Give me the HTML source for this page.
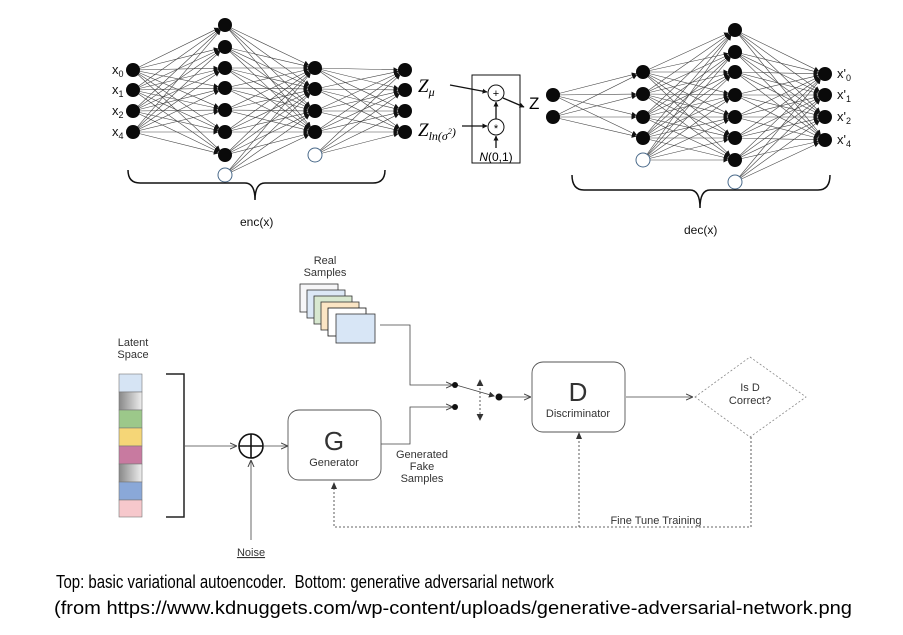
<!DOCTYPE html>
<html><head><meta charset="utf-8"><style>
html,body{margin:0;padding:0;background:#fff;}
svg{display:block;font-family:"Liberation Sans",sans-serif;}
</style></head><body>
<svg id="s" width="903" height="635" viewBox="0 0 903 635" xmlns="http://www.w3.org/2000/svg">
<defs>
<marker id="ah" markerWidth="5" markerHeight="5" refX="4.5" refY="2.5" orient="auto" markerUnits="userSpaceOnUse"><path d="M0,0 L5,2.5 L0,5 z" fill="#111"/></marker>
<marker id="ag" markerWidth="7" markerHeight="7" refX="6" refY="3.5" orient="auto" markerUnits="userSpaceOnUse"><path d="M0,0.5 L7,3.5 L0,6.5" fill="none" stroke="#444" stroke-width="1"/></marker>
<marker id="af" markerWidth="6" markerHeight="6" refX="5" refY="3" orient="auto" markerUnits="userSpaceOnUse"><path d="M0,0 L6,3 L0,6 z" fill="#333"/></marker>
<linearGradient id="g1" x1="0" y1="0" x2="1" y2="0"><stop offset="0" stop-color="#888"/><stop offset="1" stop-color="#eee"/></linearGradient>
</defs>
<g id="lines" stroke="#444" stroke-width="0.6" fill="none"></g>
<g id="nodes"></g>

<g font-size="13" fill="#111">
<text x="112" y="74">x<tspan font-size="9" dy="3">0</tspan></text>
<text x="112" y="94">x<tspan font-size="9" dy="3">1</tspan></text>
<text x="112" y="115">x<tspan font-size="9" dy="3">2</tspan></text>
<text x="112" y="136">x<tspan font-size="9" dy="3">4</tspan></text>
<text x="837" y="78">x'<tspan font-size="9" dy="3">0</tspan></text>
<text x="837" y="99">x'<tspan font-size="9" dy="3">1</tspan></text>
<text x="837" y="121">x'<tspan font-size="9" dy="3">2</tspan></text>
<text x="837" y="144">x'<tspan font-size="9" dy="3">4</tspan></text>
<text x="240" y="226" font-size="12">enc(x)</text>
<text x="684" y="234" font-size="12">dec(x)</text>
</g>
<path d="M128,170 Q128,183 140,183 L245,183 Q255,183 255,200 Q255,183 265,183 L373,183 Q385,183 385,170" fill="none" stroke="#111" stroke-width="1.5"/>
<path d="M572,175 Q572,190 584,190 L690,190 Q700,190 700,208 Q700,190 710,190 L818,190 Q830,190 830,175" fill="none" stroke="#111" stroke-width="1.5"/>

<text x="418" y="92" font-family="Liberation Serif,serif" font-style="italic" font-size="19">Z<tspan font-size="12" dy="4">μ</tspan></text>
<text x="418" y="136" font-family="Liberation Serif,serif" font-style="italic" font-size="19">Z<tspan font-size="12" dy="4">ln(σ</tspan><tspan font-size="8" dy="-6">2</tspan><tspan font-size="12" dy="2">)</tspan></text>
<rect x="472" y="75" width="48" height="88" fill="none" stroke="#111" stroke-width="1"/>
<circle cx="496" cy="93" r="8" fill="#fff" stroke="#111"/>
<text x="496" y="97" font-size="11" text-anchor="middle">+</text>
<circle cx="496" cy="127" r="8" fill="#fff" stroke="#111"/>
<text x="496" y="132" font-size="11" text-anchor="middle">*</text>
<line x1="450" y1="85" x2="487" y2="92" stroke="#111" stroke-width="1.3" marker-end="url(#ah)"/>
<line x1="462" y1="126" x2="487" y2="126" stroke="#111" stroke-width="1.3" marker-end="url(#ah)"/>
<line x1="496" y1="119" x2="496" y2="102" stroke="#111" stroke-width="1.3" marker-end="url(#ah)"/>
<line x1="496" y1="148" x2="496" y2="136" stroke="#111" stroke-width="1.3" marker-end="url(#ah)"/>
<line x1="503" y1="98" x2="524" y2="107" stroke="#111" stroke-width="1.3" marker-end="url(#ah)"/>
<text x="496" y="161" font-size="12" text-anchor="middle"><tspan font-style="italic">N</tspan>(0,1)</text>
<text x="529" y="109" font-size="17">Z</text>

<g font-size="11" fill="#333" text-anchor="middle">
<text x="325" y="264">Real</text><text x="325" y="276">Samples</text>
<text x="133" y="346">Latent</text><text x="133" y="358">Space</text>
<text x="422" y="458">Generated</text><text x="422" y="470">Fake</text><text x="422" y="482">Samples</text>
<text x="251" y="556" text-decoration="underline">Noise</text>
<text x="750" y="391">Is D</text><text x="750" y="404">Correct?</text>
<text x="656" y="524">Fine Tune Training</text>
</g>
<g stroke="#333" stroke-width="0.8">
<rect x="300" y="284" width="38" height="28" fill="#f6f6f8"/>
<rect x="307" y="290" width="38" height="28" fill="#dce8f6"/>
<rect x="314" y="296" width="38" height="28" fill="#d8e8d0"/>
<rect x="321" y="302" width="38" height="28" fill="#fbe5c4"/>
<rect x="328" y="308" width="38" height="28" fill="#fff" stroke="#111"/>
<rect x="336" y="314" width="39" height="29" fill="#d8e6f6"/>
</g>
<g stroke="#777" stroke-width="0.6">
<rect x="119" y="374" width="23" height="18" fill="#d6e4f4"/>
<rect x="119" y="392" width="23" height="18" fill="url(#g1)"/>
<rect x="119" y="410" width="23" height="18" fill="#9cc88a"/>
<rect x="119" y="428" width="23" height="18" fill="#f5d677"/>
<rect x="119" y="446" width="23" height="18" fill="#c87aa0"/>
<rect x="119" y="464" width="23" height="18" fill="url(#g1)"/>
<rect x="119" y="482" width="23" height="18" fill="#8aa8d8"/>
<rect x="119" y="500" width="23" height="17" fill="#f6c8cc"/>
</g>
<path d="M166,374 H184 V517 H166" fill="none" stroke="#222" stroke-width="1.5"/>
<g stroke="#444" stroke-width="0.8" fill="none">
<line x1="185" y1="446" x2="236" y2="446" marker-end="url(#ag)"/>
<line x1="264" y1="446" x2="287" y2="446" marker-end="url(#ag)"/>
<line x1="251" y1="540" x2="251" y2="461" marker-end="url(#ag)"/>
<path d="M380,325 H410 V385 H452" marker-end="url(#ag)"/>
<path d="M381,444 H410 V407 H452" marker-end="url(#ag)"/>
<line x1="456" y1="385" x2="494" y2="396" marker-end="url(#af)"/>
<line x1="500" y1="397" x2="530" y2="397" marker-end="url(#ag)"/>
<line x1="626" y1="397" x2="692" y2="397" marker-end="url(#ag)"/>
</g>
<circle cx="455" cy="385" r="3" fill="#111"/>
<circle cx="455" cy="407" r="3" fill="#111"/>
<circle cx="499" cy="397" r="3.5" fill="#111"/>
<g stroke="#333" stroke-width="0.8" fill="none" stroke-dasharray="2,2">
<line x1="480" y1="384" x2="480" y2="416"/>
<path d="M751,437 V527 H334 V484"/>
<line x1="579" y1="527" x2="579" y2="435"/>
<path d="M695,397 L750,357 L806,397 L750,437 Z" stroke="#888"/>
</g>
<path d="M477,386 L480,380 L483,386 M477,414 L480,420 L483,414" fill="#333" stroke="#333" stroke-width="0.8"/>
<path d="M331,489 L334,482 L337,489 Z M576,439 L579,432 L582,439 Z" fill="#333"/>
<circle cx="251" cy="446" r="12" fill="none" stroke="#111" stroke-width="1.6"/>
<path d="M239,446 H263 M251,434 V458" stroke="#111" stroke-width="1.6"/>
<rect x="288" y="410" width="93" height="70" rx="11" fill="#fff" stroke="#555" stroke-width="0.9"/>
<text x="334" y="450" font-size="26" text-anchor="middle" fill="#333">G</text>
<text x="334" y="466" font-size="11" text-anchor="middle" fill="#333">Generator</text>
<rect x="532" y="362" width="93" height="70" rx="11" fill="#fff" stroke="#555" stroke-width="0.9"/>
<text x="578" y="401" font-size="26" text-anchor="middle" fill="#333">D</text>
<text x="578" y="417" font-size="11" text-anchor="middle" fill="#333">Discriminator</text>

<text x="56" y="588" font-size="18" textLength="498" lengthAdjust="spacingAndGlyphs" xml:space="preserve">Top: basic variational autoencoder.  Bottom: generative adversarial network</text>
<text x="54" y="614" font-size="18" textLength="798" lengthAdjust="spacingAndGlyphs">(from https://www.kdnuggets.com/wp-content/uploads/generative-adversarial-network.png</text>
</svg>
<script>
var NS="http://www.w3.org/2000/svg";
var L=document.getElementById("lines"),N=document.getElementById("nodes");
function layer(x,ys,h){return{x:x,ys:ys,h:h};}
var nets=[
 [layer(133,[70,90,111,132]),layer(225,[25,47,68,88,110,132,155],175),layer(315,[68,89,111,132],155),layer(405,[70,90,111,132])],
 [layer(553,[95,117]),layer(643,[72,94,117,138],160),layer(735,[30,52,72,95,117,138,160],182),layer(825,[74,95,117,140])]
];
function el(n,a,p){var e=document.createElementNS(NS,n);for(var k in a)e.setAttribute(k,a[k]);p.appendChild(e);return e;}
nets.forEach(function(net){
 for(var i=0;i<net.length-1;i++){
  var a=net[i],b=net[i+1];var src=a.ys.slice();if(a.h)src.push(a.h);
  src.forEach(function(y1){b.ys.forEach(function(y2){
   var dx=b.x-a.x,dy=y2-y1,d=Math.sqrt(dx*dx+dy*dy);
   el("line",{x1:a.x,y1:y1,x2:b.x-dx/d*7,y2:y2-dy/d*7,"marker-end":"url(#ah)"},L);
  });});
 }
 net.forEach(function(l){
  l.ys.forEach(function(y){el("circle",{cx:l.x,cy:y,r:7,fill:"#0a0a0a"},N);});
  if(l.h)el("circle",{cx:l.x,cy:l.h,r:7,fill:"#fff",stroke:"#4a6a8a","stroke-width":1},N);
 });
});
</script>
</body></html>
